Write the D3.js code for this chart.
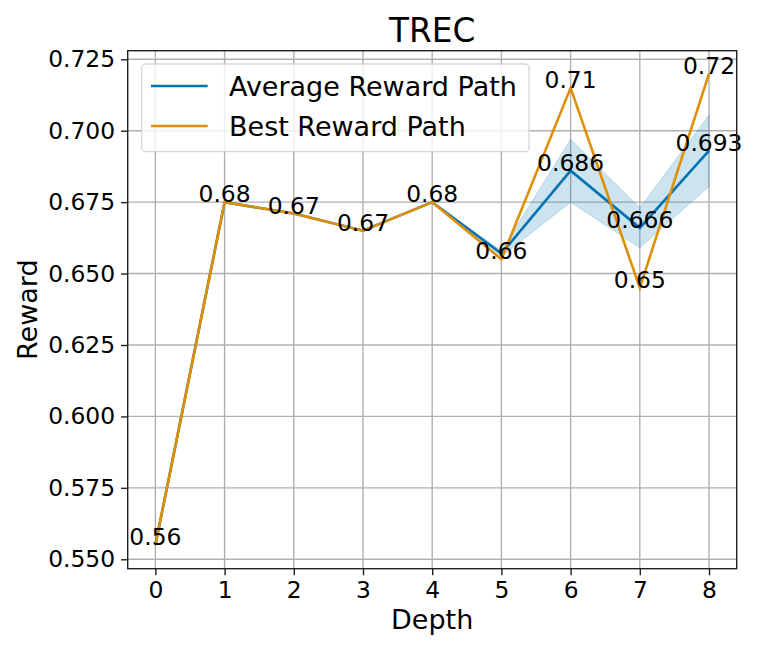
<!DOCTYPE html>
<html>
<head>
<meta charset="utf-8">
<script src="https://cdn.jsdelivr.net/npm/d3@7"></script>
<style>
  body { margin: 0; background: #fff; }
  svg { font-family: "DejaVu Sans", sans-serif; }
</style>
</head>
<body>
<div class="container"></div>
<script>
// chart values
const depths = [0, 1, 2, 3, 4, 5, 6, 7, 8];
const bestReward = [0.555, 0.675, 0.671, 0.665, 0.675, 0.655, 0.715, 0.645, 0.72];
const avgReward = [0.555, 0.675, 0.671, 0.665, 0.675, 0.657, 0.686, 0.666, 0.693];
const avgLower = [0.555, 0.675, 0.671, 0.665, 0.675, 0.656, 0.675, 0.659, 0.6805];
const avgUpper = [0.555, 0.675, 0.671, 0.665, 0.675, 0.658, 0.697, 0.673, 0.7055];
const bestLabels = ["0.56", "0.68", "0.67", "0.67", "0.68", "0.66", "0.71", "0.65", "0.72"];
const avgLabelDepths = [6, 7, 8];
const avgLabels = ["0.686", "0.666", "0.693"];
const yTicks = [0.55, 0.575, 0.6, 0.625, 0.65, 0.675, 0.7, 0.725];
const seriesNames = ["Average Reward Path", "Best Reward Path"];

const w = 761;
const h = 653;
const plotLeft = 127.7, plotRight = 736.7, plotTop = 50.7, plotBottom = 568.7;
const blue = "#0173b2";
const orange = "#de8f05";
const smallFont = 23.4;
const bigFont = 27;

const xScale = d3.scaleLinear().domain([-0.4, 8.4]).range([plotLeft, plotRight]);
const yScale = d3.scaleLinear().domain([0.5467, 0.728]).range([plotBottom, plotTop]);

const svg = d3.select(".container")
  .append("svg")
  .attr("width", w)
  .attr("height", h);

// grid
svg.append("g")
  .selectAll("line")
  .data(depths)
  .enter()
  .append("line")
  .attr("x1", d => xScale(d)).attr("x2", d => xScale(d))
  .attr("y1", plotTop).attr("y2", plotBottom)
  .attr("stroke", "#b0b0b0").attr("stroke-width", 1.4);

svg.append("g")
  .selectAll("line")
  .data(yTicks)
  .enter()
  .append("line")
  .attr("x1", plotLeft).attr("x2", plotRight)
  .attr("y1", d => yScale(d)).attr("y2", d => yScale(d))
  .attr("stroke", "#b0b0b0").attr("stroke-width", 1.4);

// band around the average path
const area = d3.area()
  .x((d, i) => xScale(depths[i]))
  .y0((d, i) => yScale(avgLower[i]))
  .y1((d, i) => yScale(avgUpper[i]));

svg.append("path")
  .datum(depths)
  .attr("d", area)
  .attr("fill", blue)
  .attr("fill-opacity", 0.2)
  .attr("stroke", blue)
  .attr("stroke-opacity", 0.2)
  .attr("stroke-width", 1);

const line = d3.line()
  .x(d => xScale(d[0]))
  .y(d => yScale(d[1]));

svg.append("path")
  .datum(depths.map((d, i) => [d, avgReward[i]]))
  .attr("d", line)
  .attr("fill", "none")
  .attr("stroke", blue)
  .attr("stroke-width", 2.6);

svg.append("path")
  .datum(depths.map((d, i) => [d, bestReward[i]]))
  .attr("d", line)
  .attr("fill", "none")
  .attr("stroke", orange)
  .attr("stroke-width", 2.6);

// value labels
svg.append("g")
  .selectAll("text")
  .data(depths)
  .enter()
  .append("text")
  .attr("x", d => xScale(d))
  .attr("y", (d, i) => yScale(bestReward[i]))
  .attr("text-anchor", "middle")
  .attr("font-size", smallFont)
  .attr("fill", "#000")
  .text((d, i) => bestLabels[i]);

svg.append("g")
  .selectAll("text")
  .data(avgLabelDepths)
  .enter()
  .append("text")
  .attr("x", d => xScale(d))
  .attr("y", d => yScale(avgReward[depths.indexOf(d)]))
  .attr("text-anchor", "middle")
  .attr("font-size", smallFont)
  .attr("fill", "#000")
  .text((d, i) => avgLabels[i]);

// axes
const xAxis = d3.axisBottom(xScale).tickValues(depths).tickFormat(d3.format("d"))
  .tickSizeInner(6.6).tickSizeOuter(0).tickPadding(6);
const yAxis = d3.axisLeft(yScale).tickValues(yTicks).tickFormat(d3.format(".3f"))
  .tickSizeInner(6.6).tickSizeOuter(0).tickPadding(6);

const gx = svg.append("g")
  .attr("transform", "translate(0," + plotBottom + ")")
  .call(xAxis);
const gy = svg.append("g")
  .attr("transform", "translate(" + plotLeft + ",0)")
  .call(yAxis);

[gx, gy].forEach(g => {
  g.select(".domain").remove();
  g.selectAll(".tick line").attr("stroke", "#222").attr("stroke-width", 1.4);
  g.selectAll(".tick text")
    .attr("font-family", "DejaVu Sans")
    .attr("font-size", smallFont)
    .attr("fill", "#000");
});

// spines
svg.append("rect")
  .attr("x", plotLeft).attr("y", plotTop)
  .attr("width", plotRight - plotLeft).attr("height", plotBottom - plotTop)
  .attr("fill", "none")
  .attr("stroke", "#222")
  .attr("stroke-width", 1.4);

// legend
const legend = svg.append("g");
legend.append("rect")
  .attr("x", 141.7).attr("y", 64)
  .attr("width", 387.3).attr("height", 87.7)
  .attr("rx", 4)
  .attr("fill", "#fff").attr("fill-opacity", 0.8)
  .attr("stroke", "#d6d6d6").attr("stroke-width", 1.3);

const legendColors = [blue, orange];
seriesNames.forEach((name, i) => {
  const ly = 86 + i * 40;
  legend.append("line")
    .attr("x1", 151).attr("x2", 207.7)
    .attr("y1", ly).attr("y2", ly)
    .attr("stroke", legendColors[i]).attr("stroke-width", 2.6);
  legend.append("text")
    .attr("x", 229).attr("y", ly + 9.5)
    .attr("font-size", bigFont)
    .attr("fill", "#000")
    .text(name);
});

// titles
svg.append("text")
  .attr("x", (plotLeft + plotRight) / 2).attr("y", 41.7)
  .attr("text-anchor", "middle")
  .attr("font-size", 32.8)
  .text("TREC");

svg.append("text")
  .attr("x", (plotLeft + plotRight) / 2).attr("y", 629.3)
  .attr("text-anchor", "middle")
  .attr("font-size", bigFont)
  .text("Depth");

svg.append("text")
  .attr("transform", "translate(37," + (plotTop + plotBottom) / 2 + ") rotate(-90)")
  .attr("text-anchor", "middle")
  .attr("font-size", bigFont)
  .text("Reward");
</script>
</body>
</html>
